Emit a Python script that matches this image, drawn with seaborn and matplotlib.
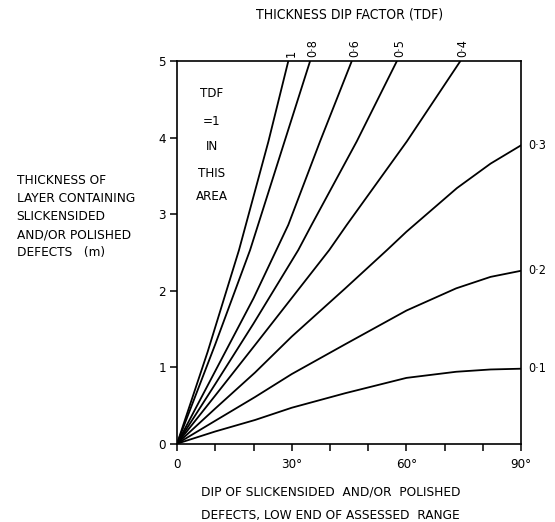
import pandas as pd
import matplotlib.pyplot as plt
import seaborn as sns

# ---------------------------------------------------------------
# Curves: dip (degrees) -> thickness (m)
# ---------------------------------------------------------------
tdf_names = ["1", "0·8", "0·6", "0·5", "0·4", "0·3", "0·2", "0·1"]

dip_1 = [0, 8, 16.2, 23.9, 29.1]
thk_1 = [0, 1.2, 2.53, 3.95, 5.0]

dip_08 = [0, 10, 19.1, 27.8, 34.8]
thk_08 = [0, 1.3, 2.53, 3.9, 5.0]

dip_06 = [0, 10, 20, 29.1, 37.4, 45.7]
thk_06 = [0, 0.95, 1.9, 2.86, 3.95, 5.0]

dip_05 = [0, 10, 20, 31.7, 35.2, 47, 57.5]
thk_05 = [0, 0.78, 1.57, 2.53, 2.86, 3.95, 5.0]

dip_04 = [0, 10, 20.4, 39.8, 44.4, 60.1, 74.1]
thk_04 = [0, 0.63, 1.29, 2.53, 2.86, 3.95, 5.0]

dip_03 = [0, 10, 20.4, 30, 44, 54.9, 60, 73.2, 82, 90]
thk_03 = [0, 0.46, 0.93, 1.40, 2.03, 2.53, 2.77, 3.34, 3.66, 3.9]

dip_02 = [0, 10, 20.4, 30, 44, 60, 73, 82, 90]
thk_02 = [0, 0.30, 0.61, 0.91, 1.30, 1.74, 2.03, 2.18, 2.26]

dip_01 = [0, 10, 20.4, 30, 44, 60, 73, 82, 90]
thk_01 = [0, 0.16, 0.31, 0.47, 0.66, 0.86, 0.94, 0.97, 0.98]

xtick_vals = [0, 10, 20, 30, 40, 50, 60, 70, 80, 90]
xtick_text = ["0", "", "", "30°", "", "", "60°", "", "", "90°"]
ytick_vals = [0, 1, 2, 3, 4, 5]

curves = list(zip(tdf_names,
                  [dip_1, dip_08, dip_06, dip_05, dip_04, dip_03, dip_02, dip_01],
                  [thk_1, thk_08, thk_06, thk_05, thk_04, thk_03, thk_02, thk_01]))

rows = []
for name, d, t in curves:
    for x, y in zip(d, t):
        rows.append((name, x, y))
df = pd.DataFrame(rows, columns=["tdf", "dip", "thickness"])

# ---------------------------------------------------------------
# Figure
# ---------------------------------------------------------------
sns.set_style("ticks")
plt.rcParams["font.family"] = ["DejaVu Sans"]
plt.rcParams["font.stretch"] = "condensed"
plt.rcParams["text.color"] = "black"
plt.rcParams["xtick.color"] = "black"
plt.rcParams["ytick.color"] = "black"

fig = plt.figure(figsize=(5.55, 5.22), dpi=100)
ax = fig.add_axes([0.319, 0.150, 0.620, 0.733])

sns.lineplot(data=df, x="dip", y="thickness", hue="tdf", units="tdf",
             estimator=None, sort=False,
             palette={n: "black" for n in tdf_names},
             linewidth=1.3, legend=False, ax=ax)

ax.set_xlim(0, 90)
ax.set_ylim(0, 5)
ax.set_xticks(xtick_vals)
ax.set_xticklabels(xtick_text)
ax.set_yticks(ytick_vals)
ax.set_xlabel("")
ax.set_ylabel("")
ax.tick_params(direction="out", length=5, width=1.1, labelsize=9.5, pad=3)
ax.tick_params(axis="x", pad=5)
for s in ax.spines.values():
    s.set_visible(True)
    s.set_linewidth(1.2)
    s.set_color("black")

# curve labels
for name, d, t in curves:
    if t[-1] >= 5:
        ax.annotate(name, (d[-1], t[-1]), xytext=(2, 3), textcoords="offset points",
                    rotation=90, ha="center", va="bottom", fontsize=9)
    else:
        ax.annotate(name, (d[-1], t[-1]), xytext=(5, 0), textcoords="offset points",
                    ha="left", va="center", fontsize=9)

# note inside the plot
for txt, yy in zip(["TDF", "=1", "IN", "THIS", "AREA"], [4.58, 4.21, 3.88, 3.53, 3.23]):
    ax.text(9.1, yy, txt, ha="center", va="center", fontsize=9.5)

fig.text(0.630, 0.973, "THICKNESS DIP FACTOR (TDF)", ha="center", va="center",
         fontsize=10)
ylab = ["THICKNESS OF", "LAYER CONTAINING", "SLICKENSIDED",
        "AND/OR POLISHED", "DEFECTS   (m)"]
for i, line in enumerate(ylab):
    fig.text(0.030, 1 - (180 + 18.2 * i) / 522, line, ha="left", va="center",
             fontsize=9.7)
fig.text(0.362, 1 - 492 / 522, "DIP OF SLICKENSIDED  AND/OR  POLISHED",
         ha="left", va="center", fontsize=9.7)
fig.text(0.362, 1 - 515 / 522, "DEFECTS, LOW END OF ASSESSED  RANGE",
         ha="left", va="center", fontsize=9.7)

fig.savefig("out.png", dpi=100)
